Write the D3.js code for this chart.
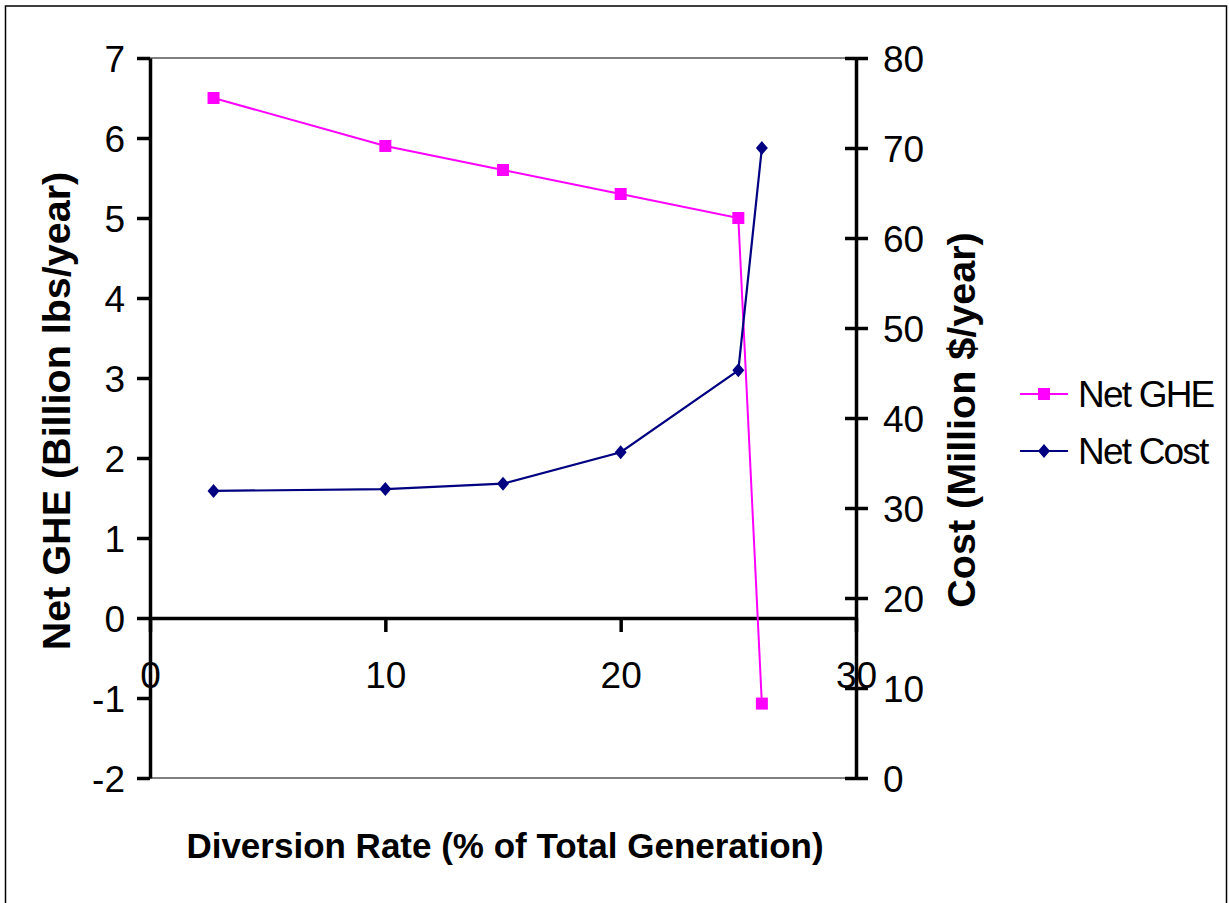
<!DOCTYPE html>
<html>
<head>
  <meta charset="utf-8">
  <title>Net GHE and Net Cost</title>
  <script src="https://d3js.org/d3.v7.min.js"></script>
  <style>
    body { margin: 0; background: #fff; }
    svg text { font-family: "Liberation Sans", Arial, sans-serif; fill: #000; }
    .axis .domain { stroke: #000; stroke-width: 3.5px; }
    .axis line { stroke: #000; stroke-width: 3.5px; }
    .axis text { font-size: 37px; }
    .title { font-weight: bold; }
  </style>
</head>
<body>
  <svg id="chart" width="1229" height="903"></svg>

  <script>
    // data
    const diversion = [2.7, 10, 15, 20, 25, 26];
    const netGHE = [6.5, 5.9, 5.6, 5.3, 5.0, -1.07];
    const netCost = [31.9, 32.1, 32.7, 36.2, 45.3, 70];

    const xTicks = [0, 10, 20, 30];
    const leftTicks = [-2, -1, 0, 1, 2, 3, 4, 5, 6, 7];
    const rightTicks = [0, 10, 20, 30, 40, 50, 60, 70, 80];

    const svg = d3.select("svg#chart");

    const plot = { left: 150, right: 856, top: 58, bottom: 778 };

    // plain hyphen for negatives, like the original
    const plain = d => String(d);

    // outer frame
    svg.append("rect")
      .attr("x", 5.5).attr("y", 6)
      .attr("width", 1221).attr("height", 1000)
      .attr("fill", "none").attr("stroke", "#000").attr("stroke-width", 1.5);

    const x = d3.scaleLinear().domain([0, 30]).range([plot.left, plot.right]);
    const yL = d3.scaleLinear().domain([-2, 7]).range([plot.bottom, plot.top]);
    const yR = d3.scaleLinear().domain([0, 80]).range([plot.bottom, plot.top]);

    // plot area border (top and bottom)
    svg.append("g").selectAll("line").data([plot.top, plot.bottom])
      .join("line")
      .attr("x1", plot.left).attr("x2", plot.right)
      .attr("y1", d => d).attr("y2", d => d)
      .attr("stroke", "#808080").attr("stroke-width", 2);

    // x axis, sitting on GHE = 0
    const xAxis = svg.append("g")
      .attr("class", "axis")
      .attr("transform", `translate(0, ${yL(0)})`)
      .call(d3.axisBottom(x).tickValues(xTicks).tickFormat(plain).tickSize(14).tickSizeOuter(0));
    xAxis.selectAll("text")
      .attr("y", 688 - yL(0))
      .attr("dy", null);

    // left axis
    svg.append("g")
      .attr("class", "axis")
      .attr("transform", `translate(${plot.left}, 0)`)
      .call(d3.axisLeft(yL).tickValues(leftTicks).tickFormat(plain).tickSize(13).tickSizeOuter(0).tickPadding(12))
      .selectAll("text").attr("dy", "0.36em");

    // right axis, ticks cross the line
    const rAxis = svg.append("g")
      .attr("class", "axis")
      .attr("transform", `translate(${plot.right}, 0)`)
      .call(d3.axisRight(yR).tickValues(rightTicks).tickFormat(plain).tickSize(12).tickSizeOuter(0).tickPadding(15));
    rAxis.selectAll(".tick line").attr("x1", -11);
    rAxis.selectAll("text").attr("dy", "0.36em");

    // series
    const ghePts = diversion.map((d, i) => [d, netGHE[i]]);
    const costPts = diversion.map((d, i) => [d, netCost[i]]);

    svg.append("path")
      .datum(ghePts)
      .attr("fill", "none").attr("stroke", "#FF00FF").attr("stroke-width", 2)
      .attr("d", d3.line().x(d => x(d[0])).y(d => yL(d[1])));

    svg.append("g").selectAll("rect").data(ghePts)
      .join("rect")
      .attr("x", d => x(d[0]) - 6).attr("y", d => yL(d[1]) - 6)
      .attr("width", 12).attr("height", 12)
      .attr("fill", "#FF00FF");

    svg.append("path")
      .datum(costPts)
      .attr("fill", "none").attr("stroke", "#000080").attr("stroke-width", 2.2)
      .attr("d", d3.line().x(d => x(d[0])).y(d => yR(d[1])));

    const diamond = "M0,-7L6,0L0,7L-6,0Z";
    svg.append("g").selectAll("path").data(costPts)
      .join("path")
      .attr("transform", d => `translate(${x(d[0])}, ${yR(d[1])})`)
      .attr("d", diamond)
      .attr("fill", "#000080");

    // axis titles
    svg.append("text")
      .attr("class", "title")
      .attr("transform", "translate(70, 411) rotate(-90)")
      .attr("text-anchor", "middle")
      .style("font-size", "39.5px")
      .text("Net GHE (Billion lbs/year)");

    svg.append("text")
      .attr("class", "title")
      .attr("transform", "translate(975, 420) rotate(-90)")
      .attr("text-anchor", "middle")
      .style("font-size", "39.5px")
      .text("Cost (Million $/year)");

    svg.append("text")
      .attr("class", "title")
      .attr("x", 505).attr("y", 858)
      .attr("text-anchor", "middle")
      .style("font-size", "35px")
      .text("Diversion Rate (% of Total Generation)");

    // legend
    const legend = svg.append("g").attr("transform", "translate(1020, 0)");
    const items = [
      { name: "Net GHE", color: "#FF00FF", y: 394, mark: "square" },
      { name: "Net Cost", color: "#000080", y: 451, mark: "diamond" }
    ];
    items.forEach(it => {
      legend.append("line")
        .attr("x1", 0).attr("x2", 48)
        .attr("y1", it.y).attr("y2", it.y)
        .attr("stroke", it.color).attr("stroke-width", 2);
      if (it.mark === "square") {
        legend.append("rect")
          .attr("x", 18).attr("y", it.y - 6).attr("width", 12).attr("height", 12)
          .attr("fill", it.color);
      } else {
        legend.append("path")
          .attr("transform", `translate(24, ${it.y})`)
          .attr("d", diamond).attr("fill", it.color);
      }
      legend.append("text")
        .attr("x", 58).attr("y", it.y + 12.5)
        .style("font-size", "37px")
        .style("letter-spacing", "-1.8px")
        .text(it.name);
    });
  </script>
</body>
</html>
